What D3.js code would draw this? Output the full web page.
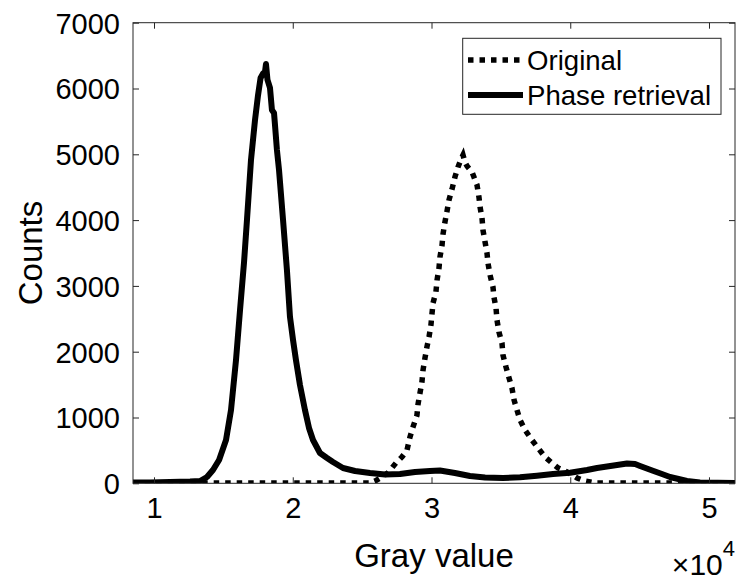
<!DOCTYPE html>
<html>
<head>
<meta charset="utf-8">
<script src="https://cdn.jsdelivr.net/npm/d3@7"></script>
<style>
  html, body { margin: 0; padding: 0; background: #fff; }
  svg { display: block; font-family: "Liberation Sans", Arial, Helvetica, sans-serif; }
</style>
</head>
<body>
<svg id="chart" width="739" height="583"></svg>
<script>
// Histogram of gray values: original image vs. phase-retrieved image
const originalGray = [8500, 25570, 25930, 26290, 26860, 27440, 27870, 28230, 28450, 28670, 28950, 29030, 29170, 29310, 29390, 29530, 29670, 29820, 29960, 30040, 30110, 30320, 30400, 30540, 30610, 30760, 30830, 30970, 31120, 31260, 31480, 31690, 31910, 32130, 32270, 32410, 32560, 32920, 33060, 33280, 33420, 33500, 33640, 33710, 33860, 34000, 34070, 34220, 34430, 34500, 34650, 34720, 34860, 35080, 35150, 35370, 35590, 35800, 35950, 36160, 36380, 36740, 37240, 37680, 38180, 38680, 39120, 39770, 40490, 41060, 41780, 51870];
const originalCounts = [5, 5, 35, 80, 160, 309, 400, 500, 705, 857, 1033, 1205, 1372, 1539, 1722, 1904, 2071, 2223, 2406, 2588, 2740, 2907, 3089, 3272, 3439, 3621, 3788, 3971, 4138, 4305, 4472, 4654, 4806, 4928, 4989, 4882, 4821, 4730, 4654, 4533, 4350, 4198, 4031, 3849, 3667, 3500, 3348, 3165, 2983, 2831, 2664, 2482, 2299, 2132, 1950, 1767, 1600, 1448, 1266, 1114, 962, 810, 658, 536, 400, 309, 233, 172, 81, 35, 5, 5];

const phaseGray = [8500, 9710, 11150, 12600, 13320, 13820, 14250, 14690, 15190, 15550, 15910, 16200, 16490, 16700, 16990, 17280, 17500, 17680, 17860, 18000, 18070, 18180, 18360, 18500, 18650, 18720, 18860, 19010, 19300, 19580, 19800, 20020, 20230, 20520, 20880, 21170, 21460, 21960, 22470, 22900, 23620, 24490, 25570, 26650, 27730, 28810, 29890, 30610, 31690, 32770, 33860, 35150, 36380, 37600, 38760, 39980, 41210, 41930, 42650, 43370, 44090, 44670, 45030, 45960, 46610, 47190, 48410, 49350, 51870];
const phaseCounts = [12, 12, 20, 27, 35, 96, 202, 354, 658, 1114, 1874, 2634, 3363, 4002, 4914, 5522, 5902, 6160, 6230, 6251, 6372, 6130, 6008, 5674, 5629, 5446, 5066, 4762, 4002, 3242, 2528, 2178, 1874, 1494, 1114, 841, 658, 461, 385, 324, 233, 187, 157, 134, 141, 172, 187, 195, 157, 111, 88, 81, 91, 115, 141, 160, 202, 233, 255, 278, 301, 293, 263, 190, 141, 96, 35, 12, 5];

const xTicks = [10000, 20000, 30000, 40000, 50000];
const yTicks = [0, 1000, 2000, 3000, 4000, 5000, 6000, 7000];
const xDomain = [8486, 51874];
const yDomain = [0, 7000];
const seriesNames = ["Original", "Phase retrieval"];

const svg = d3.select("#chart");
const plotLeft = 133, plotRight = 735, plotTop = 22.7, plotBottom = 483.3;
const axisColor = "#262626";

const x = d3.scaleLinear().domain(xDomain).range([plotLeft, plotRight]);
const y = d3.scaleLinear().domain(yDomain).range([plotBottom, plotTop]);

const clipId = "plot-clip";
svg.append("clipPath").attr("id", clipId)
  .append("rect").attr("x", plotLeft).attr("y", plotTop - 10)
  .attr("width", plotRight - plotLeft).attr("height", plotBottom - plotTop + 10);

const plot = svg.append("g");
const line = d3.line().x(d => x(d[0])).y(d => y(d[1]));

const origData = originalGray.map((g, i) => [g, originalCounts[i]]);
const phaseData = phaseGray.map((g, i) => [g, phaseCounts[i]]);

// Original histogram: dotted line
plot.append("path")
  .datum(origData)
  .attr("clip-path", `url(#${clipId})`)
  .attr("fill", "none")
  .attr("stroke", "#000")
  .attr("stroke-width", 5.5)
  .attr("stroke-dasharray", "5.5,6")
  .attr("d", line);

// Phase-retrieved histogram: thick solid line
plot.append("path")
  .datum(phaseData)
  .attr("clip-path", `url(#${clipId})`)
  .attr("fill", "none")
  .attr("stroke", "#000")
  .attr("stroke-width", 6)
  .attr("stroke-linejoin", "round")
  .attr("stroke-linecap", "round")
  .attr("d", line);

// Axes (box with inward ticks on all sides)
const tickLen = 6;
const fmtX = d => String(d / 1e4);

const xBottom = svg.append("g").attr("transform", `translate(0,${plotBottom})`)
  .call(d3.axisBottom(x).tickValues(xTicks).tickFormat(fmtX).tickSizeInner(-tickLen).tickSizeOuter(0).tickPadding(14));
const xTop = svg.append("g").attr("transform", `translate(0,${plotTop})`)
  .call(d3.axisTop(x).tickValues(xTicks).tickFormat("").tickSizeInner(-tickLen).tickSizeOuter(0));
const yLeft = svg.append("g").attr("transform", `translate(${plotLeft},0)`)
  .call(d3.axisLeft(y).tickValues(yTicks).tickFormat(d3.format("d")).tickSizeInner(-tickLen).tickSizeOuter(0).tickPadding(13));
const yRight = svg.append("g").attr("transform", `translate(${plotRight},0)`)
  .call(d3.axisRight(y).tickValues(yTicks).tickFormat("").tickSizeInner(-tickLen).tickSizeOuter(0));

[xBottom, xTop, yLeft, yRight].forEach(g => {
  g.select(".domain").remove();
  g.selectAll(".tick line").attr("stroke", axisColor).attr("stroke-width", 1);
  g.selectAll(".tick text").attr("fill", "#000")
    .style("font-family", "'Liberation Sans', Arial, sans-serif")
    .style("font-size", "29px");
});
xBottom.selectAll(".tick text").attr("dy", "0.71em");
yLeft.selectAll(".tick text").attr("dy", "0.36em");

svg.append("rect")
  .attr("x", plotLeft).attr("y", plotTop)
  .attr("width", plotRight - plotLeft).attr("height", plotBottom - plotTop)
  .attr("fill", "none").attr("stroke", axisColor).attr("stroke-width", 1);

// Axis labels
svg.append("text")
  .attr("x", (plotLeft + plotRight) / 2).attr("y", 567)
  .attr("text-anchor", "middle")
  .style("font-size", "33px").attr("fill", "#000")
  .text("Gray value");

svg.append("text")
  .attr("transform", `translate(42,${(plotTop + plotBottom) / 2}) rotate(-90)`)
  .attr("text-anchor", "middle")
  .style("font-size", "33px").attr("fill", "#000")
  .text("Counts");

// Exponent marker for the x axis
const expo = svg.append("text")
  .attr("x", plotRight).attr("y", 575)
  .attr("text-anchor", "end")
  .attr("fill", "#000");
expo.append("tspan").style("font-size", "30px").text("\u00D710");
expo.append("tspan").style("font-size", "22px").attr("dy", -19).text("4");

// Legend
const lg = svg.append("g");
lg.append("rect")
  .attr("x", 462.7).attr("y", 38.3)
  .attr("width", 258.3).attr("height", 76)
  .attr("fill", "#fff").attr("stroke", axisColor).attr("stroke-width", 1);

const legendRows = [
  { name: seriesNames[0], y: 60, dash: "5.5,6", w: 5.5 },
  { name: seriesNames[1], y: 95, dash: null, w: 6 }
];
legendRows.forEach(r => {
  const l = lg.append("line")
    .attr("x1", 468).attr("x2", 523)
    .attr("y1", r.y).attr("y2", r.y)
    .attr("stroke", "#000").attr("stroke-width", r.w);
  if (r.dash) l.attr("stroke-dasharray", r.dash);
  lg.append("text")
    .attr("x", 527).attr("y", r.y + 9.5)
    .style("font-size", "27.6px").attr("fill", "#000")
    .text(r.name);
});
</script>
</body>
</html>
